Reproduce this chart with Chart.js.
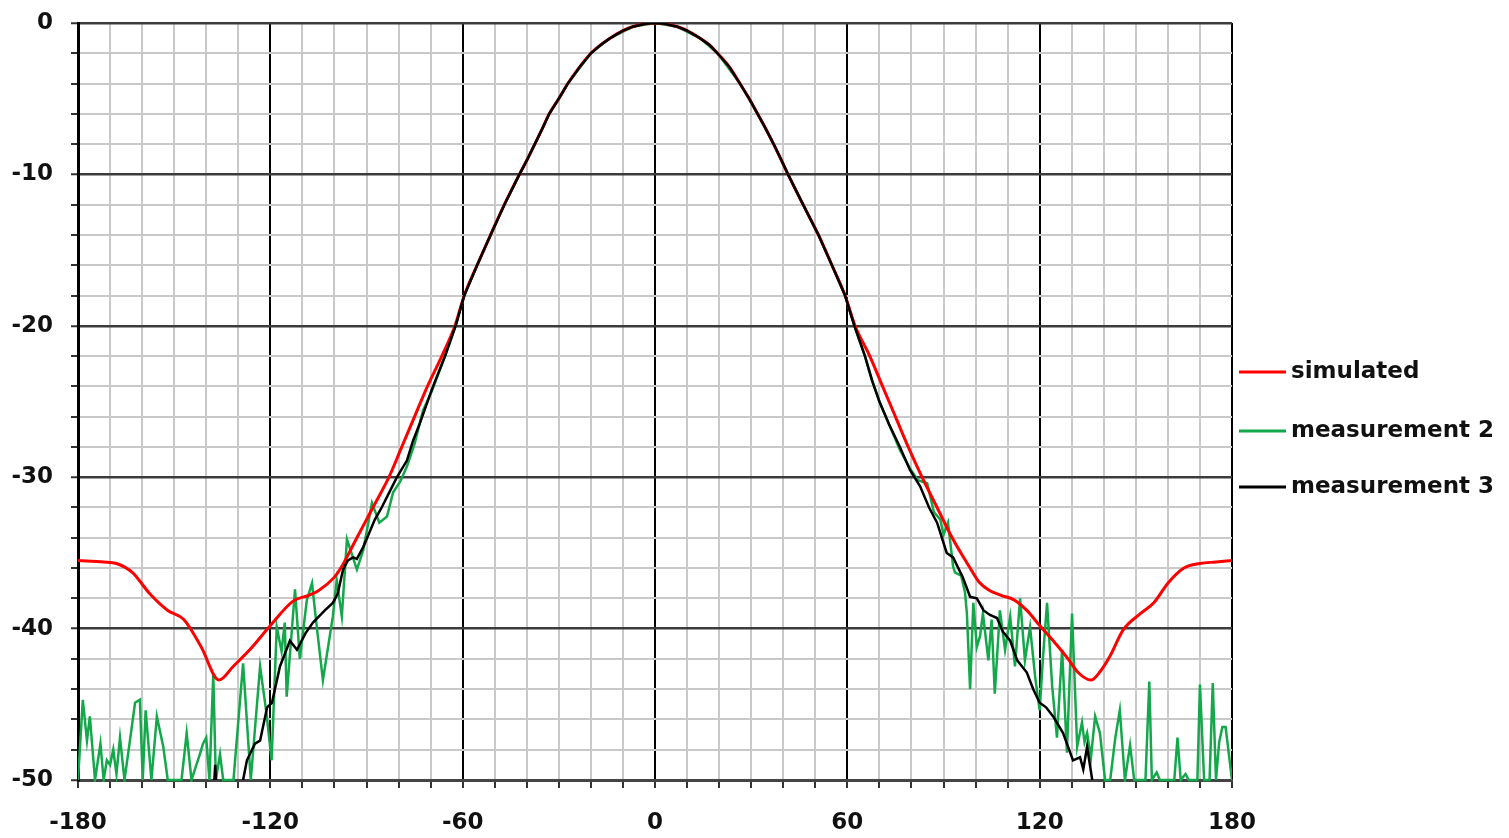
<!DOCTYPE html>
<html>
<head>
<meta charset="utf-8">
<title>Radiation pattern</title>
<script src="https://cdn.jsdelivr.net/npm/chart.js@4.4.1/dist/chart.umd.min.js"></script>
<style>
  body { margin: 0; background: #fff; }
  .wrap { position: relative; width: 1509px; height: 838px; }
</style>
</head>
<body>
<div class="wrap"><canvas id="graficoDiagrama"></canvas></div>
<script>
// Dados (ângulo em graus, nível em dB)
const simAngles = [-180, -172, -168, -163, -157.6, -152, -147, -141.6, -136, -131.6, -126, -120, -113, -108, -105, -100, -98, -93, -88, -83, -79, -75, -71, -66.5, -62.4, -59.5, -55.5, -51.3, -47, -42.3, -39.8, -37.5, -35.2, -33, -30, -27.2, -23.5, -20, -17, -14, -10, -7, -3, 0,
  3, 7, 10, 14, 17, 19.5, 23.2, 26.5, 29.4, 32, 34.6, 37, 39.3, 41.5, 46.2, 51, 55.2, 59.3, 62.4, 67, 71, 75, 79, 83.3, 88, 92.7, 98.3, 101, 104.5, 108, 112, 116, 120, 125, 128.5, 132, 136, 139, 142, 146, 151.5, 155.6, 160, 165, 170, 175, 180];
const simDb = [-35.5, -35.6, -35.7, -36.3, -37.7, -38.8, -39.4, -41.2, -43.4, -42.5, -41.3, -39.8, -38.2, -37.8, -37.5, -36.6, -36, -34, -32, -30, -28, -26, -24, -22, -20, -18, -16, -14, -12, -10, -9, -8, -7, -6, -5, -4, -2.9, -2, -1.45, -1, -0.5, -0.25, -0.05, 0,
  -0.05, -0.25, -0.5, -1, -1.45, -2, -2.9, -4, -5, -6, -7, -8, -9, -10, -12, -14, -16, -18, -20, -22, -24, -26, -28, -30, -32, -34, -36, -36.9, -37.5, -37.8, -38.1, -38.8, -39.8, -41, -41.9, -42.9, -43.4, -42.8, -41.8, -40.1, -39, -38.3, -37, -36, -35.7, -35.6, -35.5];

const m3Angles = [-138, -137.2, -136.5, -130, -128.5, -127.3, -124.8, -123.2, -121, -119.5, -117, -113.9, -111.7, -109, -106.7, -103, -100.5, -99, -97.3, -95.8, -94.2, -93, -91, -89, -87.4, -85.5, -83.6, -80.5, -77.4, -75.5, -73.3, -69.6, -65.5, -62.2, -59.5, -55.5, -51.3, -47, -42.3, -39.8, -37.5, -35.2, -33, -30, -27.2, -23.5, -20, -17, -14, -10, -7, -3, 0,
  3, 7, 10, 14, 17, 19.5, 23.2, 26.5, 29.4, 32, 34.6, 37, 39.3, 41.5, 46.2, 51, 55.2, 59.3, 62.2, 65.5, 67.7, 70, 73, 76.4, 79.5, 82.7, 85.5, 88, 91, 93, 96, 98.3, 100.4, 102.5, 104.5, 106.7, 108.5, 110.8, 113, 116, 118, 120, 122, 124.2, 127.3, 130.4, 132.6, 133.6, 134.8, 136.4, 137];
const m3Db = [-52, -49, -52, -52, -50, -48.7, -47.6, -47.4, -45.2, -44.9, -42.5, -40.8, -41.4, -40.3, -39.6, -38.8, -38.3, -37.7, -36.1, -35.5, -35.3, -35.4, -34.6, -33.6, -32.8, -32.1, -31.3, -30, -28.9, -27.6, -26.4, -24.2, -22, -20, -18, -16, -14, -12, -10, -9, -8, -7, -6, -5, -4, -2.9, -2, -1.45, -1, -0.5, -0.25, -0.05, 0,
  -0.05, -0.25, -0.5, -1, -1.45, -2, -2.9, -4, -5, -6, -7, -8, -9, -10, -12, -14, -16, -18, -20, -22, -23.6, -25, -26.5, -28, -29.5, -30.6, -32, -33, -35, -35.3, -36.6, -37.9, -38, -38.8, -39.1, -39.3, -40.2, -40.8, -42.1, -42.9, -44, -44.9, -45.2, -45.8, -46.9, -48.7, -48.5, -49.3, -47.8, -50, -52];

const m2Angles = [-180, -178.5, -177.2, -176.3, -174.7, -173, -172, -171, -170, -169, -168, -166.9, -165.5, -163.8, -162.2, -160.7, -159.8, -158.9, -157.1, -155.4, -153.4, -152, -147.7, -146.1, -144.6, -142, -141, -140, -139, -137.8, -137, -135.7, -134.7, -131.5, -128.5, -126.1, -123.2, -121.2, -119.6, -118, -116.5, -115.5, -114.9, -112.3, -110.8, -108.6, -107, -105.5, -103.6, -100.5, -99.3, -97.7, -96.1, -93, -91, -88.3, -86, -83.6, -81.7, -79.5, -77.4, -75, -72.4, -69.6, -65.5,
  -62.2, -59.5, -55.5, -51.3, -47, -42.3, -37.5, -33, -27.2, -20, -14, -7, 0, 7, 14, 19.5, 26.5, 32, 37, 41.5, 46.2, 51, 55.2, 59.3, 62.2,
  65.5, 67.7, 70, 73, 76.4, 79.5, 82, 84.9, 87, 89, 90, 91.4, 93, 93.6, 95.5, 96.7, 97.3, 98.3, 99.3, 100.4, 101.4, 102.3, 104, 105, 106, 107.6, 109.2, 110.8, 112.3, 113.9, 115.4, 117, 118.6, 120, 121, 122.3, 123.9, 125.4, 127, 128.5, 130.1, 131.7, 133.2, 134, 134.8, 136, 137.3, 138.8, 140.4, 142, 143.6, 145, 146.6, 148.2, 149.5, 153, 154.2, 155, 156.5, 157.5, 162, 163, 164, 165.5, 166.5, 169.2, 170, 171.3, 173, 174, 175, 176, 177, 178, 180];
const m2Db = [-50, -44.7, -47.4, -45.8, -50, -47.6, -50, -48.7, -49, -48, -49.6, -47.2, -50, -47.4, -44.9, -44.7, -50, -45.4, -50, -45.8, -47.8, -50, -50, -46.9, -50, -48.3, -47.6, -47.2, -50, -43, -50, -48.3, -50, -50, -42.3, -50, -42.5, -45.6, -48.7, -39.9, -41.5, -39.6, -44.5, -37.4, -42, -38.1, -37, -39.9, -43.4, -39.2, -36.8, -39.2, -34.1, -36.1, -34.8, -31.7, -33, -32.6, -31, -30.3, -29.3, -27.8, -25.6, -24.3, -22,
  -20, -18, -16, -14, -12, -10, -8, -6, -4, -2, -1, -0.25, 0, -0.25, -1, -2, -4, -6, -8, -10, -12, -14, -16, -18, -20,
  -22, -23.6, -25, -26.5, -28.2, -29.4, -30.2, -30.4, -32.3, -32.8, -33.8, -33, -35.9, -36.3, -36.5, -37.6, -39, -44, -38.3, -41.2, -40.5, -39, -42.1, -39.4, -44.3, -38.8, -41.4, -39.2, -42.5, -38, -42.1, -39.9, -43.2, -45.4, -42, -38.3, -43.8, -47.2, -41.4, -48.2, -39, -47.8, -46.2, -47.5, -46.9, -48.5, -45.8, -46.9, -50, -50, -47.2, -45.4, -50, -47.7, -50, -50, -43.5, -50, -49.5, -50, -50, -47.2, -50, -49.6, -50, -50, -43.7, -50, -50, -43.6, -50, -47.5, -46.5, -46.5, -50];

const xTicks = [-180, -120, -60, 0, 60, 120, 180];
const yTicks = [0, -10, -20, -30, -40, -50];

const seriesNames = ['simulated', 'measurement 2', 'measurement 3'];
const seriesColors = ['#ff0000', '#13a84a', '#000000'];

function toPoints(xs, ys) {
  return xs.map(function (x, i) { return { x: x, y: ys[i] }; });
}

const fonte = { family: 'DejaVu Sans', size: 23, weight: 'bold' };

// legenda desenhada à direita da área do gráfico
const legendaDireita = {
  id: 'legendaDireita',
  afterDraw: function (chart) {
    const c = chart.ctx;
    const area = chart.chartArea;
    const ys = [372, 431, 487];
    c.save();
    c.font = 'bold 23px "DejaVu Sans"';
    c.textBaseline = 'middle';
    c.textAlign = 'left';
    seriesNames.forEach(function (nome, i) {
      c.strokeStyle = seriesColors[i];
      c.lineWidth = 3;
      c.beginPath();
      c.moveTo(area.right + 7, ys[i]);
      c.lineTo(area.right + 54, ys[i]);
      c.stroke();
      c.fillStyle = '#111';
      c.fillText(nome, area.right + 59, ys[i]);
    });
    c.restore();
  }
};

document.addEventListener('DOMContentLoaded', function () {
  const ctx = document.getElementById('graficoDiagrama').getContext('2d');
  new Chart(ctx, {
    type: 'line',
    data: {
      datasets: [{
        label: seriesNames[0],
        data: toPoints(simAngles, simDb),
        borderColor: seriesColors[0],
        borderWidth: 3,
        pointRadius: 0,
        cubicInterpolationMode: 'monotone',
        order: 1
      }, {
        label: seriesNames[1],
        data: toPoints(m2Angles, m2Db),
        borderColor: seriesColors[1],
        borderWidth: 2.5,
        pointRadius: 0,
        tension: 0,
        order: 2,
        clip: { left: 0, top: 0, right: 0, bottom: 2 }
      }, {
        label: seriesNames[2],
        data: toPoints(m3Angles, m3Db),
        borderColor: seriesColors[2],
        borderWidth: 2.5,
        pointRadius: 0,
        tension: 0,
        order: 0
      }]
    },
    options: {
      responsive: true,
      maintainAspectRatio: false,
      animation: false,
      layout: { padding: { top: 23, right: 277, left: 0, bottom: 0 } },
      scales: {
        x: {
          type: 'linear',
          min: -180,
          max: 180,
          ticks: {
            stepSize: 10,
            autoSkip: false,
            maxRotation: 0,
            padding: 21,
            color: '#111',
            font: fonte,
            callback: function (v) { return xTicks.indexOf(v) >= 0 ? String(v) : ''; }
          },
          grid: {
            color: function (c) { return c.tick && c.tick.value % 60 === 0 ? '#000' : '#c9c9c9'; },
            lineWidth: 2,
            tickLength: 8,
            tickColor: '#333',
            tickWidth: 2
          },
          border: { color: '#444', width: 3 },
          afterFit: function (s) { s.height = 58; s.paddingLeft = 0; s.paddingRight = 0; }
        },
        y: {
          min: -50,
          max: 0,
          ticks: {
            stepSize: 2,
            autoSkip: false,
            padding: 18,
            color: '#111',
            font: fonte,
            callback: function (v) { return yTicks.indexOf(v) >= 0 ? String(v) : ''; }
          },
          grid: {
            color: function (c) { return c.tick && c.tick.value % 10 === 0 ? '#3c3c3c' : '#c9c9c9'; },
            lineWidth: function (c) { return c.tick && c.tick.value % 10 === 0 ? 2.5 : 2; },
            tickLength: 7,
            tickColor: '#333',
            tickWidth: 2
          },
          border: { color: '#000', width: 3 },
          afterFit: function (s) { s.width = 78; s.paddingTop = 0; s.paddingBottom = 0; }
        }
      },
      plugins: {
        legend: { display: false },
        tooltip: { enabled: false }
      }
    },
    plugins: [legendaDireita]
  });
});
</script>
</body>
</html>
